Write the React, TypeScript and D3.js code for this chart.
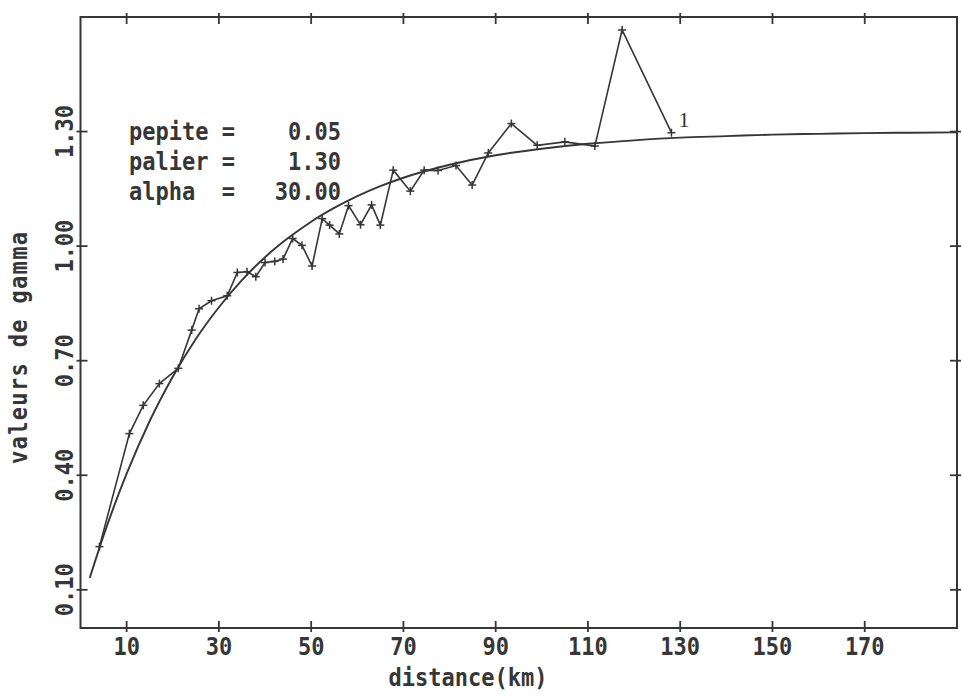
import React from "react";
import * as d3 from "d3";

// Experimental variogram (distance km, gamma)
const expDistance = [4.1, 10.6, 13.6, 17.1, 21.2, 24.1, 25.7, 28.4, 31.8, 34.0, 36.1, 38.0, 40.0, 42.1, 43.9, 46.0, 48.0, 50.2, 52.4, 54.0, 56.1, 58.1, 60.7, 63.1, 65.0, 67.8, 71.5, 74.5, 77.5, 81.4, 84.9, 88.4, 93.4, 99.0, 105.0, 111.5, 117.4, 128.1];
const expGamma = [0.213, 0.509, 0.583, 0.640, 0.680, 0.780, 0.836, 0.857, 0.870, 0.931, 0.933, 0.920, 0.957, 0.960, 0.966, 1.020, 1.002, 0.948, 1.072, 1.055, 1.032, 1.106, 1.056, 1.108, 1.055, 1.199, 1.144, 1.199, 1.198, 1.211, 1.160, 1.244, 1.321, 1.264, 1.273, 1.262, 1.566, 1.297];

// Fitted model curve
const modelDistance = [2, 5, 10, 15, 20, 25, 30, 35, 40, 45, 50, 55, 60, 65, 70, 80, 90, 100, 110, 120, 130, 140, 150, 160, 170, 180, 190];
const modelGamma = [0.131, 0.242, 0.404, 0.542, 0.658, 0.757, 0.840, 0.911, 0.971, 1.021, 1.064, 1.100, 1.131, 1.157, 1.179, 1.213, 1.238, 1.255, 1.268, 1.277, 1.284, 1.288, 1.292, 1.294, 1.296, 1.297, 1.298];

const xTicks = [10, 30, 50, 70, 90, 110, 130, 150, 170];
const yTicks = [0.1, 0.4, 0.7, 1.0, 1.3];

const paramLines = ["pepite =    0.05", "palier =    1.30", "alpha  =   30.00"];
const seriesLabel = "1";
const xTitle = "distance(km)";
const yTitle = "valeurs de gamma";

const W = 962;
const H = 697;
const left = 80.5, right = 957, top = 17, bottom = 628;

const INK = "#363636";
const FONT = "'DejaVu Sans Mono', 'Liberation Mono', monospace";

function T({ x, y, rot = 0, anchor = "start", children, size = 22, sy = 1.13, weight = "bold", family = FONT, len }: any) {
  return (
    <g transform={`translate(${x},${y}) rotate(${rot}) scale(1,${sy})`}>
      <text x={0} y={0} textAnchor={anchor} fontFamily={family} fontSize={size} fontWeight={weight} fill={INK} style={{ whiteSpace: "pre" }} xmlSpace="preserve" {...(len ? { textLength: len, lengthAdjust: "spacing" } : {})}>
        {children}
      </text>
    </g>
  );
}

export default function App() {
  const x = d3.scaleLinear().domain([0, 190]).range([left, right]);
  const y = d3.scaleLinear().domain([0, 1.6]).range([bottom, top]);

  const expPts: [number, number][] = expDistance.map((d, i) => [x(d), y(expGamma[i])]);
  const modelPts: [number, number][] = modelDistance.map((d, i) => [x(d), y(modelGamma[i])]);

  const linear = d3.line();
  const smooth = d3.line().curve(d3.curveMonotoneX);

  const tin = 7, tout = 4;
  const last = expPts[expPts.length - 1];

  return (
    <svg width={W} height={H} style={{ position: "absolute", left: 0, top: 0, background: "#fff" }}>
      <rect x={0} y={0} width={W} height={H} fill="#fff" />
      {/* frame */}
      <rect x={left} y={top} width={right - left} height={bottom - top} fill="none" stroke={INK} strokeWidth={2} />
      {/* x ticks bottom & top */}
      {xTicks.map((t) => (
        <g key={"xt" + t} stroke={INK} strokeWidth={1.8}>
          <line x1={x(t)} x2={x(t)} y1={bottom - tin} y2={bottom + tout} />
          <line x1={x(t)} x2={x(t)} y1={top - tout} y2={top + tin} />
        </g>
      ))}
      {/* y ticks left & right */}
      {yTicks.map((t) => (
        <g key={"yt" + t} stroke={INK} strokeWidth={1.8}>
          <line x1={left - tout} x2={left + tin} y1={y(t)} y2={y(t)} />
          <line x1={right - tin} x2={right + tout} y1={y(t)} y2={y(t)} />
        </g>
      ))}
      {/* x tick labels */}
      {xTicks.map((t) => (
        <T key={"xl" + t} x={x(t)} y={655} anchor="middle">{String(t)}</T>
      ))}
      {/* y tick labels */}
      {yTicks.map((t) => (
        <T key={"yl" + t} x={73} y={y(t)} rot={-90} anchor="middle">{t.toFixed(2)}</T>
      ))}
      {/* axis titles */}
      <T x={468} y={686} anchor="middle">{xTitle}</T>
      <T x={27} y={348} rot={-90} anchor="middle" len={232}>{yTitle}</T>
      {/* parameters */}
      {paramLines.map((s, i) => (
        <T key={"p" + i} x={129} y={140 + i * 30}>{s}</T>
      ))}
      {/* model curve */}
      <path d={smooth(modelPts) || ""} fill="none" stroke={INK} strokeWidth={1.9} />
      {/* experimental */}
      <path d={linear(expPts) || ""} fill="none" stroke={INK} strokeWidth={1.6} />
      {expPts.map(([px, py], i) => (
        <g key={"m" + i} stroke={INK} strokeWidth={1.5}>
          <line x1={px - 4} x2={px + 4} y1={py} y2={py} />
          <line x1={px} x2={px} y1={py - 4} y2={py + 4} />
        </g>
      ))}
      <T x={last[0] + 7} y={last[1] - 6} size={22} sy={1} weight="normal" family="'Liberation Serif', serif">{seriesLabel}</T>
    </svg>
  );
}
